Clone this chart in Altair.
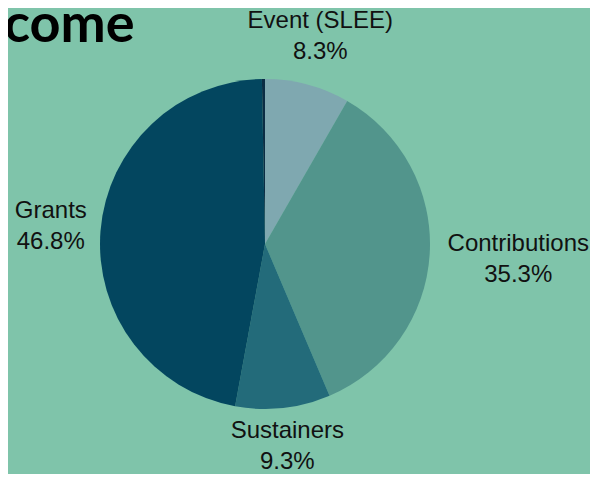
import altair as alt
import pandas as pd

categories = ["Event (SLEE)", "Contributions", "Sustainers", "Grants", "Other"]
values = [8.3, 35.3, 9.3, 46.8, 0.3]
pct_labels = ["8.3%", "35.3%", "9.3%", "46.8%", ""]
colors = ["#7fa8b0", "#52958c", "#236b7a", "#03465f", "#0b2d44"]
title_text = ["come"]

df = pd.DataFrame({
    "category": categories,
    "value": values,
    "pct": pct_labels,
    "order": list(range(len(categories))),
})

CX, CY, R = 257, 236, 165

color = alt.Color("category:N", scale=alt.Scale(domain=categories, range=colors), legend=None)

arcs = alt.Chart(df).mark_arc(outerRadius=R, stroke=None).encode(
    theta=alt.Theta("value:Q", stack=True),
    order=alt.Order("order:Q"),
    color=color,
    x=alt.value(CX), y=alt.value(CY),
)

labels = alt.Chart(df).transform_window(
    cum="sum(value)", sort=[alt.SortField("order")]
).transform_calculate(
    mid="(datum.cum - datum.value/2) / 100 * 2 * PI",
    lr=f"{R} + 15 + abs(sin(datum.mid))*length(datum.category)*5.6 + abs(cos(datum.mid))*17.6",
    label="datum.category + '\\n' + datum.pct",
).transform_calculate(
    px=f"{CX} + datum.lr * sin(datum.mid)",
    py=f"{CY} - datum.lr * cos(datum.mid)",
).transform_filter(
    "datum.pct != ''"
).mark_text(
    fontSize=24, font="Liberation Sans", color="#111111", lineBreak="\n",
    lineHeight=31, align="center", baseline="middle", dy=-15.5
).encode(
    x=alt.X("px:Q", scale=None),
    y=alt.Y("py:Q", scale=None),
    text="label:N",
)

title = alt.Chart(pd.DataFrame({"t": title_text})).mark_text(
    fontSize=54, font="Lato", fontWeight="bold", color="#000000",
    align="left", baseline="alphabetic"
).encode(x=alt.value(-4), y=alt.value(34), text="t:N")

chart = alt.layer(arcs, labels, title).properties(
    width=582, height=466, background="#7fc4aa", padding=0,
    autosize=alt.AutoSizeParams(type="none"),
).configure_view(stroke=None)

chart.save("out.html", embed_options={"renderer": "svg", "actions": False})
